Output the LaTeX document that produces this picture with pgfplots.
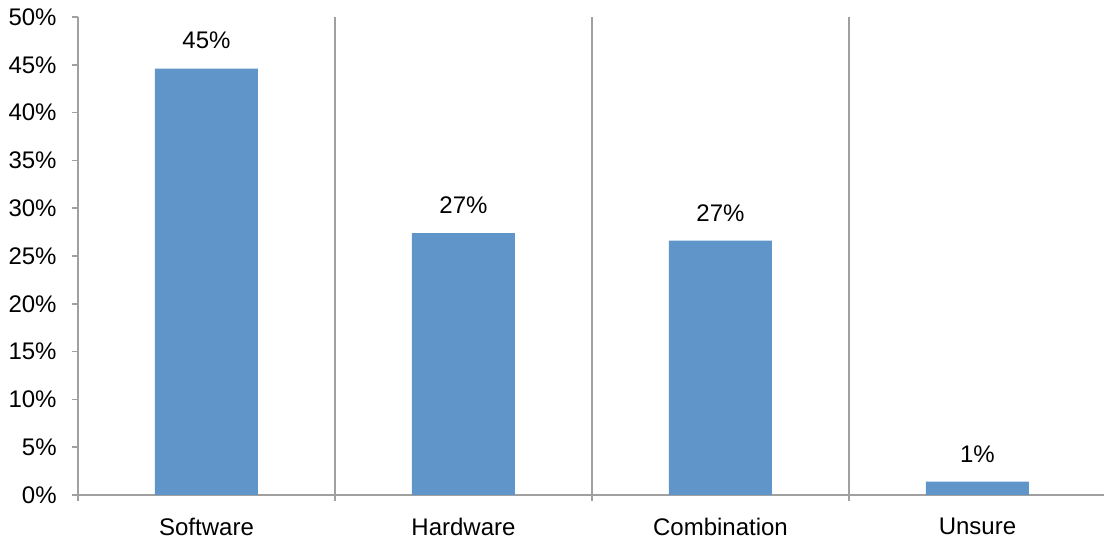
\documentclass[border=0pt]{standalone}
\usepackage{fontspec}
\setmainfont{Liberation Sans}
\usepackage{pgfplots}
\pgfplotsset{compat=1.18}
\definecolor{barblue}{RGB}{96,149,201}
\definecolor{rulegray}{RGB}{160,160,160}
\begin{document}
\fontsize{12}{14}\selectfont
\begin{tikzpicture}
\path[use as bounding box] (-39pt,-22pt) rectangle (513pt,247.5pt);
\begin{axis}[
  scale only axis,
  width=514pt, height=239pt,
  xmin=-0.5, xmax=3.5, ymin=0, ymax=50,
  axis x line*=bottom, axis y line*=left,
  axis line style={draw=rulegray, line width=0.8pt, -},
  tick align=outside, major tick length=3pt,
  tick style={draw=rulegray, line width=0.8pt},
  /pgf/number format/assume math mode=true,
  ytick={0,5,...,50},
  yticklabel={\pgfmathprintnumber{\tick}\%},
  yticklabel style={font=\fontsize{12}{14}\selectfont, xshift=-3.5pt},
  xtick={-0.5,0.5,1.5,2.5,3.5},
  xticklabels={},
  xmajorgrids,
  major x grid style={draw=rulegray, line width=0.8pt},
  extra x ticks={0,1,2,3},
  extra x tick labels={Software,Hardware,Combination,Unsure},
  extra x tick style={grid=none, tick style={draw=none},
    xticklabel style={font=\fontsize{12}{14}\selectfont, yshift=-4.5pt}},
  ybar, bar width=51.5pt,
  nodes near coords={\pgfmathprintnumber[fixed,precision=0]{\pgfplotspointmeta}\%},
  every node near coord/.append style={font=\fontsize{12}{14}\selectfont, black, yshift=5.5pt},
]
\addplot[fill=barblue, draw=none] coordinates {(0,44.6) (1,27.4) (2,26.6) (3,1.4)};
\end{axis}
\end{tikzpicture}
\end{document}
